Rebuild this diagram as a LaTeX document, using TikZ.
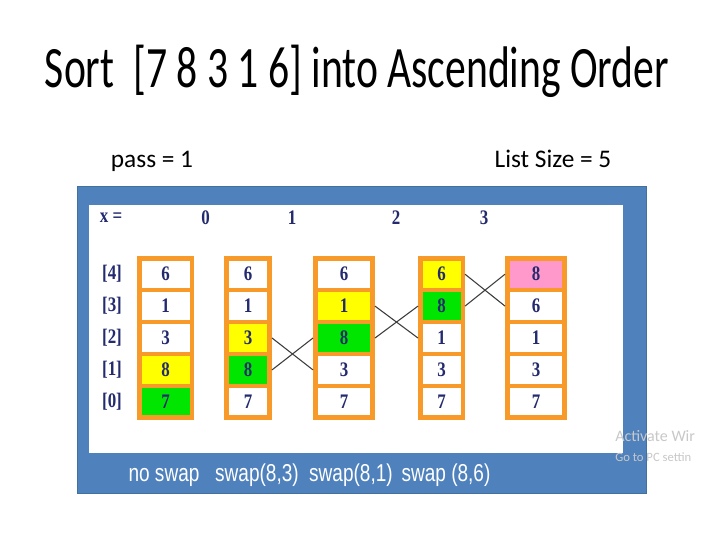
\documentclass[tikz,border=0pt]{standalone}
\usepackage{fontspec}
\setmainfont{Liberation Serif}
\newfontfamily\titlefont[FakeStretch=0.71]{Carlito}
\newfontfamily\infofont{Carlito}
\newfontfamily\swapfont[FakeStretch=0.78]{Liberation Sans}
\newfontfamily\cellfont[FakeStretch=0.82]{Liberation Serif}
\usetikzlibrary{positioning}
\definecolor{frameblue}{HTML}{4F81BD}
\definecolor{frameedge}{HTML}{41719C}
\definecolor{boxorange}{HTML}{F79A2A}
\definecolor{inknavy}{HTML}{232A6E}
\definecolor{swapyellow}{HTML}{FFFF00}
\definecolor{swapgreen}{HTML}{00E600}
\definecolor{donepink}{HTML}{FF99CC}
\definecolor{crossgray}{HTML}{3C3C3C}
\definecolor{wmgray}{HTML}{C8C8C8}
\tikzset{
  % celler
  cell/.style={draw=boxorange,line width=3.4pt,fill=white,inner sep=0pt,
               minimum height=23.9pt,text=inknavy,
               font=\cellfont\bfseries\fontsize{15.5}{17}\selectfont},
  wa/.style={minimum width=39.4pt},
  wb/.style={minimum width=32.6pt},
  wc/.style={minimum width=43.1pt},
  wd/.style={minimum width=31.9pt},
  we/.style={minimum width=43.1pt},
  hot/.style={fill=swapyellow},
  cmp/.style={fill=swapgreen},
  done/.style={fill=donepink},
  idx/.style={text=inknavy,inner sep=0pt,
              font=\cellfont\bfseries\fontsize{15.5}{17}\selectfont},
  swapline/.style={draw=crossgray,line width=0.8pt},
  % texter
  info/.style={anchor=base,inner sep=0pt,font=\infofont\fontsize{19}{22}\selectfont},
  swaptxt/.style={anchor=base,inner sep=0pt,text=white,
                  font=\swapfont\fontsize{18.3}{20}\selectfont},
  wm/.style={anchor=base west,inner sep=0pt,text=wmgray},
}
\begin{document}
\begin{tikzpicture}[x=0.75pt,y=-0.75pt]
  \fill[white] (0,0) rectangle (720,540);
  \useasboundingbox (0,0) rectangle (720,540);
  \node[anchor=base,inner sep=0pt,font=\titlefont\fontsize{44}{50}\selectfont]
    (title) at (357,87) {Sort~ [7 8 3 1 6] into Ascending Order};
  \node[info] (pass) at (152,167) {pass = 1};
  \node[info] (size) at (553,167) {List Size = 5};
  % ramen
  \fill[frameblue,draw=frameedge,line width=0.5pt] (77,186) rectangle (646,493);
  \fill[white] (89,205) rectangle (623,453);
  % rubriker
  \node[idx] (xeq) at (111,217.5) {x =};
  \node[idx] (x0) at (205.5,217.5) {0};
  \node[idx] (x1) at (292,217.5) {1};
  \node[idx] (x2) at (396,217.5) {2};
  \node[idx] (x3) at (484,217.5) {3};
  \node[idx] (i4) at (112,274.2) {[4]};
  \node[idx] (i3) at (112,306.1) {[3]};
  \node[idx] (i2) at (112,338.0) {[2]};
  \node[idx] (i1) at (112,369.9) {[1]};
  \node[idx] (i0) at (112,401.8) {[0]};
  % x = 0
  \node[cell,wa] (a4) at (165.5,274.2) {6};
  \node[cell,wa] (a3) at (165.5,306.1) {1};
  \node[cell,wa] (a2) at (165.5,338.0) {3};
  \node[cell,wa,hot] (a1) at (165.5,369.9) {8};
  \node[cell,wa,cmp] (a0) at (165.5,401.8) {7};
  % x = 1
  \node[cell,wb] (b4) at (248,274.2) {6};
  \node[cell,wb] (b3) at (248,306.1) {1};
  \node[cell,wb,hot] (b2) at (248,338.0) {3};
  \node[cell,wb,cmp] (b1) at (248,369.9) {8};
  \node[cell,wb] (b0) at (248,401.8) {7};
  % x = 2
  \node[cell,wc] (c4) at (344,274.2) {6};
  \node[cell,wc,hot] (c3) at (344,306.1) {1};
  \node[cell,wc,cmp] (c2) at (344,338.0) {8};
  \node[cell,wc] (c1) at (344,369.9) {3};
  \node[cell,wc] (c0) at (344,401.8) {7};
  % x = 3
  \node[cell,wd,hot] (d4) at (441.5,274.2) {6};
  \node[cell,wd,cmp] (d3) at (441.5,306.1) {8};
  \node[cell,wd] (d2) at (441.5,338.0) {1};
  \node[cell,wd] (d1) at (441.5,369.9) {3};
  \node[cell,wd] (d0) at (441.5,401.8) {7};
  % resultat
  \node[cell,we,done] (e4) at (536,274.2) {8};
  \node[cell,we] (e3) at (536,306.1) {6};
  \node[cell,we] (e2) at (536,338.0) {1};
  \node[cell,we] (e1) at (536,369.9) {3};
  \node[cell,we] (e0) at (536,401.8) {7};
  % byten
  \draw[swapline] (b2.east) -- (c1.west);
  \draw[swapline] (b1.east) -- (c2.west);
  \draw[swapline] (c3.east) -- (d2.west);
  \draw[swapline] (c2.east) -- (d3.west);
  \draw[swapline] (d4.east) -- (e3.west);
  \draw[swapline] (d3.east) -- (e4.west);
  \node[swaptxt] (s0) at (164,481) {no swap};
  \node[swaptxt] (s1) at (257,481) {swap(8,3)};
  \node[swaptxt] (s2) at (351,481) {swap(8,1)};
  \node[swaptxt] (s3) at (446,481) {swap (8,6)};
  \node[wm,font=\infofont\fontsize{12}{14}\selectfont] (wm1) at (615,441) {Activate Wir};
  \node[wm,font=\infofont\fontsize{9.5}{11}\selectfont] (wm2) at (615,461) {Go to PC settin};
\end{tikzpicture}
\end{document}
